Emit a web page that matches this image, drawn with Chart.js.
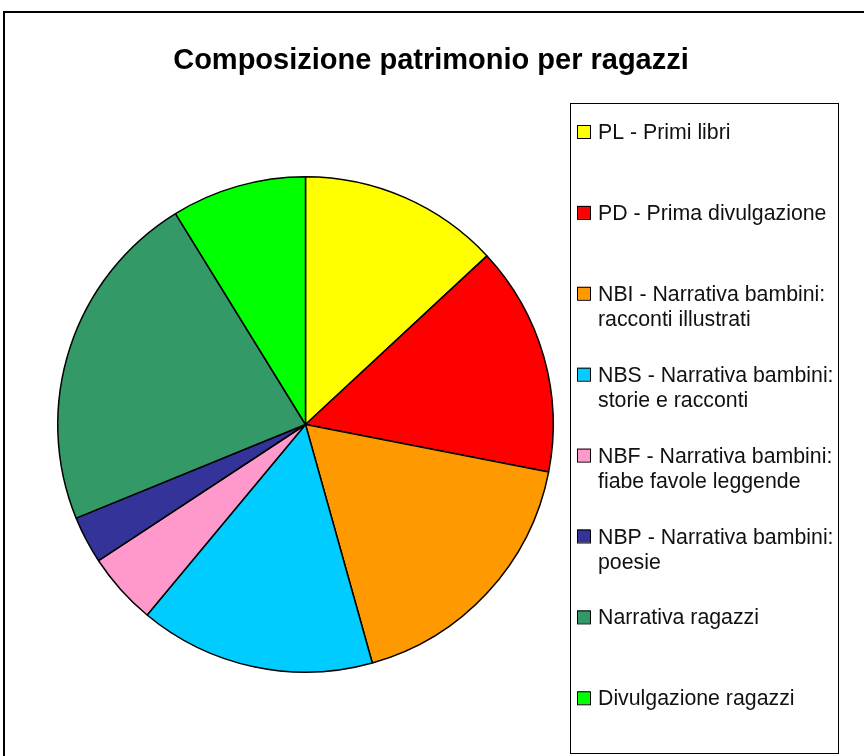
<!DOCTYPE html>
<html>
<head>
<meta charset="utf-8">
<script src="https://cdn.jsdelivr.net/npm/chart.js@4/dist/chart.umd.min.js"></script>
<style>
  html, body { margin: 0; padding: 0; background: #fff; }
  #wrap { width: 864px; height: 756px; position: relative; }
</style>
</head>
<body>
<div id="wrap"><canvas id="pieChart" width="864" height="756"></canvas></div>
<script>
// dati (quote in %)
const titolo = 'Composizione patrimonio per ragazzi';
const categorie = [
    ['PL - Primi libri'],
    ['PD - Prima divulgazione'],
    ['NBI - Narrativa bambini:', 'racconti illustrati'],
    ['NBS - Narrativa bambini:', 'storie e racconti'],
    ['NBF - Narrativa bambini:', 'fiabe favole leggende'],
    ['NBP - Narrativa bambini:', 'poesie'],
    ['Narrativa ragazzi'],
    ['Divulgazione ragazzi']
];
const valori = [13.1, 15.0, 17.6, 15.4, 4.7, 3.1, 22.4, 8.8];
const colori = ['#FFFF00', '#FF0000', '#FF9900', '#00CCFF', '#FF99CC', '#333399', '#339966', '#00FF00'];

// cornice, titolo e legenda disegnati sul canvas
const cornice = {
    id: 'cornice',
    afterDraw(chart) {
        const ctx = chart.ctx;
        ctx.save();
        // bordo esterno
        ctx.strokeStyle = '#000';
        ctx.lineWidth = 2;
        ctx.strokeRect(4, 12, 880, 760);

        // titolo
        ctx.fillStyle = '#000';
        ctx.font = 'bold 29px "Liberation Sans", Arial, sans-serif';
        ctx.textAlign = 'center';
        ctx.textBaseline = 'alphabetic';
        ctx.fillText(titolo, 431, 69);

        // riquadro legenda
        ctx.lineWidth = 1;
        ctx.strokeRect(570.5, 103.5, 268, 650);

        ctx.font = '21.3px "Liberation Sans", Arial, sans-serif';
        ctx.textAlign = 'left';
        const labels = chart.data.labels;
        const bg = chart.data.datasets[0].backgroundColor;
        labels.forEach((lab, i) => {
            const base = 139 + i * 80.9;
            ctx.fillStyle = bg[i];
            ctx.fillRect(577, base - 14, 13, 13);
            ctx.strokeStyle = '#000';
            ctx.strokeRect(577.5, base - 13.5, 13, 13);
            ctx.fillStyle = '#111';
            lab.forEach((riga, k) => ctx.fillText(riga, 598, base + k * 25));
        });
        ctx.restore();
    }
};

new Chart(document.getElementById('pieChart'), {
    type: 'pie',
    data: {
        labels: categorie,
        datasets: [{
            data: valori,
            backgroundColor: colori,
            borderColor: '#000',
            borderWidth: 1.5,
            borderAlign: 'center'
        }]
    },
    options: {
        responsive: false,
        animation: false,
        rotation: 0,
        layout: { padding: { left: 57, top: 176, right: 310, bottom: 83 } },
        plugins: {
            legend: { display: false },
            title: { display: false },
            tooltip: { enabled: false }
        }
    },
    plugins: [cornice]
});
</script>
</body>
</html>
